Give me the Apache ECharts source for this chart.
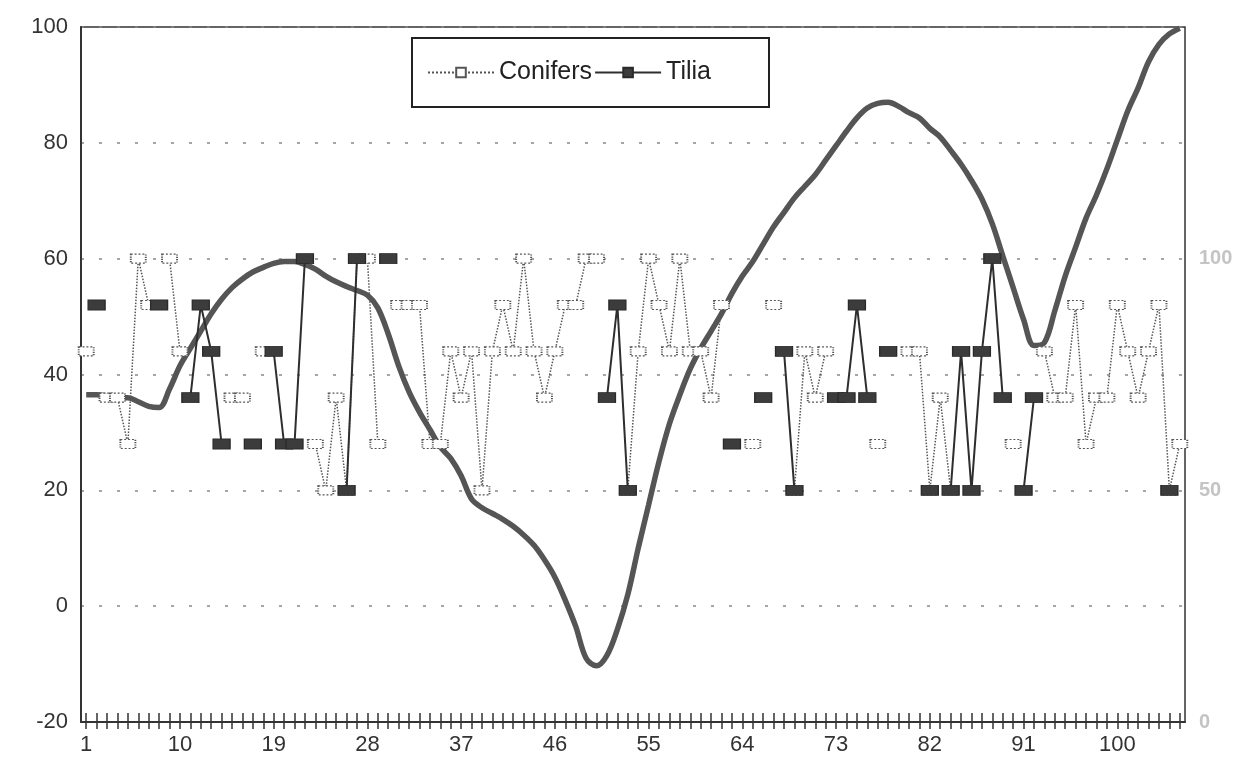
<!DOCTYPE html>
<html><head><meta charset="utf-8">
<script src="https://cdn.jsdelivr.net/npm/echarts@6/dist/echarts.min.js"></script>
<style>html,body{margin:0;padding:0;background:#fff}#c{width:1247px;height:759px}</style>
</head><body><div id="c"></div>
<script>
const categories = ['1','2','3','4','5','6','7','8','9','10','11','12','13','14','15','16','17','18','19','20',
'21','22','23','24','25','26','27','28','29','30','31','32','33','34','35','36','37','38','39','40',
'41','42','43','44','45','46','47','48','49','50','51','52','53','54','55','56','57','58','59','60',
'61','62','63','64','65','66','67','68','69','70','71','72','73','74','75','76','77','78','79','80',
'81','82','83','84','85','86','87','88','89','90','91','92','93','94','95','96','97','98','99','100',
'101','102','103','104','105','106'];

const conifers = [44,null,36,36,28,60,52,null,60,44,
null,null,null,null,36,36,null,44,null,null,
null,null,28,20,36,20,60,60,28,null,
52,52,52,28,28,44,36,44,20,44,
52,44,60,44,36,44,52,52,60,60,
null,null,20,44,60,52,44,60,44,44,
36,52,null,null,28,null,52,null,20,44,
36,44,null,null,null,null,28,null,null,44,
44,20,36,20,null,null,null,null,null,28,
null,null,44,36,36,52,28,36,36,52,
44,36,44,52,20,28];

const tilia = [null,52,null,null,null,null,null,52,null,null,
36,52,44,28,null,null,28,null,44,28,
28,60,null,null,null,20,60,null,null,60,
null,null,null,null,null,null,null,null,null,null,
null,null,null,null,null,null,null,null,null,null,
36,52,20,null,null,null,null,null,null,null,
null,null,28,null,null,36,null,44,20,null,
null,null,36,36,52,36,null,44,null,null,
null,20,null,20,44,20,44,60,36,null,
20,36,null,null,null,null,null,null,null,null,
null,null,null,null,20,null];

const curve = [36.5,36.5,36.3,36,36,35.3,34.5,34.3,37.5,41.5,
44.5,47.5,50.5,53,55,56.5,57.7,58.5,59.2,59.5,
59.5,59,58.2,57,56,55.2,54.5,53.7,51.5,47,
41.5,37,33.5,30.5,27.5,25.5,22.5,18.5,17,16,
15,13.8,12.3,10.5,8,5,1,-3.5,-9,-10.3,
-8.5,-4,2,10,17.5,25,31.5,36.5,41,44.5,
47.5,50.5,54,57,59.5,62.5,65.5,68,70.5,72.5,
74.5,77,79.5,82,84.3,86,86.8,87,86.3,85.2,
84.3,82.5,81,78.7,76.3,73.5,70.3,66,60.5,55,
49.5,45,45.5,51,57,62,67,71,75.5,80.5,
85.5,89.5,94,97,98.8,99.8];

const rightTicks = [0, 50, 100];

const FONT = '"Liberation Sans", Arial, Helvetica, sans-serif';
const chart = echarts.init(document.getElementById('c'), null, {renderer:'canvas'});
chart.setOption({
  animation: false,
  backgroundColor: '#fff',
  textStyle: {fontFamily: FONT},
  grid: {left: 81, right: 62, top: 27, bottom: 37, show: true, borderColor: '#333', borderWidth: 1.5},
  legend: {
    data: ['Conifers', 'Tilia'],
    left: 412, top: 38,
    itemWidth: 66, itemHeight: 12, itemGap: 2,
    padding: [22, 58, 22, 15],
    borderColor: '#222', borderWidth: 2,
    backgroundColor: '#fff',
    textStyle: {fontSize: 25, color: '#222', fontFamily: FONT}
  },
  xAxis: [{
    type: 'category', data: categories, position: 'bottom', boundaryGap: true,
    axisLine: {show: true, onZero: false, lineStyle: {color: '#333', width: 2}},
    axisTick: {show: true, inside: true, length: 9, interval: 0, alignWithLabel: true, lineStyle: {color: '#333', width: 1.5}},
    axisLabel: {interval: 8, fontSize: 22, color: '#333', margin: 12, fontFamily: FONT},
    splitLine: {show: false}
  }, {
    type: 'category', data: categories, position: 'bottom', boundaryGap: true,
    axisLine: {show: false, onZero: false},
    axisTick: {show: true, inside: false, length: 7, interval: 0, alignWithLabel: true, lineStyle: {color: '#333', width: 1.5}},
    axisLabel: {show: false},
    splitLine: {show: false}
  }],
  yAxis: [{
    type: 'value', min: -20, max: 100, interval: 20,
    axisLine: {show: true, onZero: false, lineStyle: {color: '#333', width: 2}},
    axisTick: {show: false},
    axisLabel: {fontSize: 22, color: '#333', margin: 13, fontFamily: FONT},
    splitLine: {show: true, lineStyle: {color: '#888', type: [3, 15], width: 1.5}}
  }, {
    type: 'value', min: 0, max: 150, interval: 50, position: 'right',
    axisLine: {show: false, onZero: false}, axisTick: {show: false}, splitLine: {show: false},
    axisLabel: {color: '#c4c4c4', fontSize: 20, fontWeight: 'bold', margin: 14, fontFamily: FONT,
      formatter: function (v) { return rightTicks.indexOf(v) >= 0 ? String(v) : ''; }}
  }],
  series: [{
    name: 'curve', type: 'line', data: curve, smooth: 0.35, symbol: 'none', silent: true,
    lineStyle: {color: '#555', width: 5.5}, z: 1
  }, {
    name: 'Conifers', type: 'line', data: conifers, connectNulls: false,
    showAllSymbol: true,
    symbol: 'rect', symbolSize: [15, 9],
    lineStyle: {color: '#555', width: 1.5, type: 'dotted'},
    itemStyle: {color: '#fff', borderColor: '#555', borderWidth: 1.5, borderType: 'dotted'},
    z: 3
  }, {
    name: 'Tilia', type: 'line', data: tilia, connectNulls: false,
    showAllSymbol: true,
    symbol: 'rect', symbolSize: [17, 10],
    lineStyle: {color: '#2e2e2e', width: 2},
    itemStyle: {color: '#3c3c3c', borderColor: '#2a2a2a', borderWidth: 1},
    z: 4
  }]
});
</script></body></html>
